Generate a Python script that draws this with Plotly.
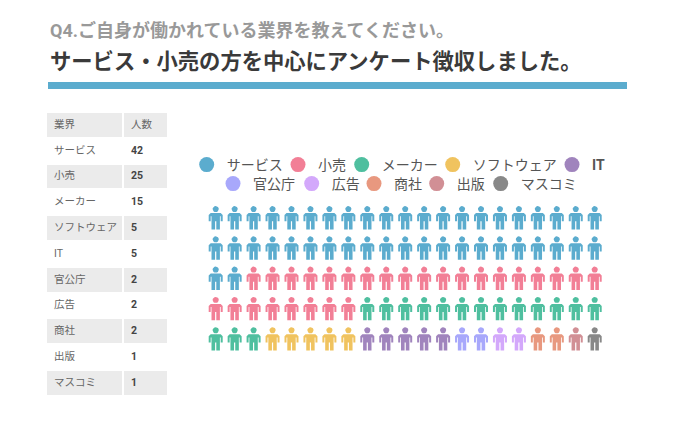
import numpy as np
import plotly.graph_objects as go

OFF = 8  # the page body adds 8px round the figure
W, H = 674 - 2 * OFF, 446 - 2 * OFF


def px(x):
    return (x - OFF) / W


def py(y):
    return 1 - (y - OFF) / H


question = "Q4.ご自身が働かれている業界を教えてください。"
headline = "サービス・小売の方を中心にアンケート徴収しました。"

# table values
table_header = ["業界", "人数"]
industries = ["サービス", "小売", "メーカー", "ソフトウェア", "IT", "官公庁", "広告", "商社", "出版", "マスコミ"]
people = [42, 25, 15, 5, 5, 2, 2, 2, 1, 1]

# icons actually drawn per industry (picture has 21 x 5 icons, not 100)
icon_counts = [44, 27, 16, 5, 5, 2, 2, 2, 1, 1]
colors = ["#5bacce", "#f27f96", "#4fbf9f", "#f0c35f", "#a084bd",
          "#a8a8fb", "#d3a8fb", "#e8987f", "#d18f95", "#888888"]

# legend circle centres in px, each entry gets its own legend so the gaps match
legend_x = [206.7, 298, 361.7, 452.7, 572, 233, 311.7, 374, 436.7, 500.7]
legend_y = [165, 165, 165, 165, 165, 184, 184, 184, 184, 184]

COLS, ROWS = 21, 5
STEP_X, STEP_Y = 18.95, 30.3  # px between icons
LEFT, TOP = 215.7 - STEP_X / 2, 217.7 - STEP_Y / 2

# person outline in px around the icon centre
body_x = np.array([-5, 5, 7, 7, 5, 5, 4.2, 4.2, 0.6, 0.6, -0.6, -0.6, -4.2, -4.2, -5, -5, -7, -7, -5])
body_y = np.array([-4.7, -4.7, -2.7, 3.5, 3.5, -1.5, -1.5, 11.7, 11.7, 3.5, 3.5, 11.7, 11.7, -1.5, -1.5, 3.5, 3.5, -2.7, -4.7])
t = np.linspace(0, 2 * np.pi, 17)
head_x = 3.1 * np.cos(t)
head_y = -8.6 + 3.1 * np.sin(t)

fig = go.Figure()

# icons, filled row by row
idx = 0
for name, count, color in zip(industries, icon_counts, colors):
    xs, ys = [], []
    for i in range(idx, idx + count):
        col, row = i % COLS, i // COLS
        for ox, oy in ((body_x, body_y), (head_x, head_y)):
            xs += list(col + ox / STEP_X) + [None]
            ys += list(row + oy / STEP_Y) + [None]
    idx += count
    fig.add_trace(go.Scatter(x=xs, y=ys, mode="lines", fill="toself", fillcolor=color,
                             line=dict(width=0, color=color), hoverinfo="skip",
                             showlegend=False, name=name))

# legend only traces
legends = {}
for i, (name, color) in enumerate(zip(industries, colors)):
    key = "legend" if i == 0 else f"legend{i + 1}"
    label = f"<b>{name}</b>" if name == "IT" else name
    fig.add_trace(go.Scatter(x=[None], y=[None], mode="markers", name=label,
                             marker=dict(size=15, color=color), legend=key))
    legends[key] = dict(x=px(legend_x[i] - 20), y=py(legend_y[i]),
                        xanchor="left", yanchor="middle", orientation="h",
                        bgcolor="rgba(0,0,0,0)", itemclick=False, itemdoubleclick=False,
                        font=dict(family="Roboto, Noto Sans CJK JP", size=14, color="#555555"))

# table
row_fill = ["white" if i % 2 == 0 else "#ebebeb" for i in range(len(people))]
fig.add_trace(go.Table(
    domain=dict(x=[px(46), px(169)], y=[py(398), py(112)]),
    columnwidth=[77, 45],
    header=dict(values=table_header, height=25.8, align="left",
                fill_color="#ebebeb", line=dict(color="white", width=2),
                font=dict(family="Roboto, Noto Sans CJK JP", size=10.5, color="#666666")),
    cells=dict(values=[industries, people], height=25.8, align="left",
               fill_color=[row_fill, row_fill],
               line=dict(color="white", width=2),
               font=dict(family="Roboto, Noto Sans CJK JP", size=10.5, color=["#666666", "#444444"],
                         weight=[400, 700])),
))

fig.update_layout(
    width=W, height=H,
    margin=dict(l=0, r=0, t=0, b=0),
    paper_bgcolor="white", plot_bgcolor="white",
    xaxis=dict(domain=[px(LEFT), px(LEFT + COLS * STEP_X)], range=[-0.5, COLS - 0.5], visible=False),
    yaxis=dict(domain=[py(TOP + ROWS * STEP_Y), py(TOP)], range=[ROWS - 0.5, -0.5], visible=False),
    showlegend=True,
    annotations=[
        dict(text=f"<b>{question}</b>", x=px(48), y=py(30.5), xref="paper", yref="paper",
             xanchor="left", yanchor="middle", showarrow=False,
             font=dict(family="Roboto, Noto Sans CJK JP", size=18, color="#999999")),
        dict(text=f"<b>{headline}</b>", x=px(48), y=py(61.5), xref="paper", yref="paper",
             xanchor="left", yanchor="middle", showarrow=False,
             font=dict(family="Roboto, Noto Sans CJK JP", size=21.3, color="#3a3a3a")),
    ],
    shapes=[dict(type="rect", xref="paper", yref="paper", x0=px(48), x1=px(627),
                 y0=py(89), y1=py(82), fillcolor="#5bacce", line_width=0)],
)
fig.update_layout(**legends)

fig.write_html("out.html", config=dict(displayModeBar=False))
